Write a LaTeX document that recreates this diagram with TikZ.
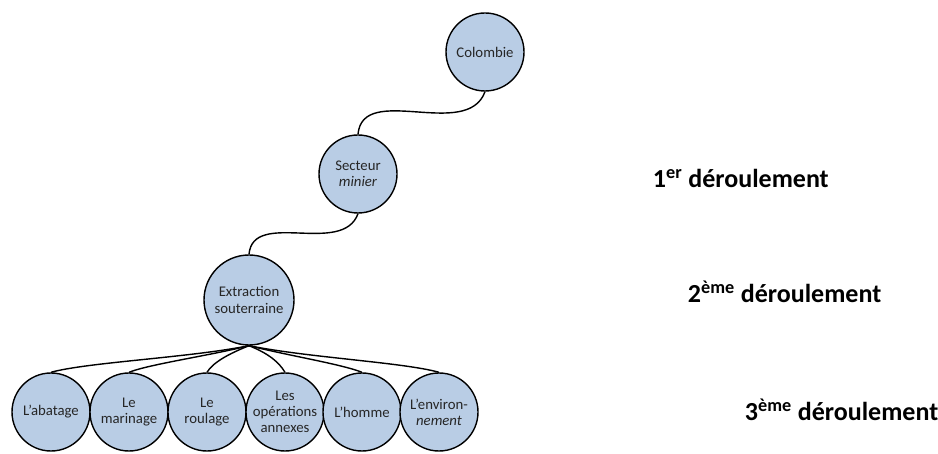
\documentclass[tikz,border=0pt]{standalone}
\usepackage{fontspec}
\setmainfont{Carlito}
\usepackage{tikz}
\usetikzlibrary{positioning}

\definecolor{bulle}{HTML}{B9CDE5}
\definecolor{encre}{HTML}{262626}

\tikzset{
  etape/.style={circle, draw=black, line width=1pt, fill=bulle,
    minimum size=1.95cm, inner sep=0pt, align=center, text=encre,
    font=\fontsize{10.5}{11.5}\selectfont},
  grande/.style={etape, minimum size=2.25cm},
  lien/.style={line width=1pt},
  niveau/.style={anchor=west, font=\fontsize{18.5}{22}\selectfont\bfseries}
}

\begin{document}
\begin{tikzpicture}
        \useasboundingbox (0,0) rectangle (23.45,11.35);

        \node[etape] (col) at (12.125,10.05) {Colombie};
        \node[etape] (sec) at (8.95,7.0) {Secteur\\\textit{minier}};
        \node[grande] (ext) at (6.225,3.85) {Extraction\\souterraine};

        \node[etape] (aba) at (1.275,1.05) {L'abatage};
        \node[etape] (mar) at (3.225,1.05) {Le\\marinage};
        \node[etape] (rou) at (5.175,1.05) {Le\\roulage};
        \node[etape] (ope) at (7.125,1.05) {Les\\opérations\\annexes};
        \node[etape] (hom) at (9.05,1.05) {L'homme};
        \node[etape] (env) at (10.975,1.05) {L'environ-\\\textit{nement}};

        \node[niveau] (n1) at (16.2,6.9) {1\textsuperscript{er} déroulement};
        \node[niveau] (n2) at (17.075,4.05) {2\textsuperscript{ème} déroulement};
        \node[niveau] (n3) at (18.5,1.1) {3\textsuperscript{ème} déroulement};

        \draw[lien] (col.south) to[out=-110, in=85] (sec.north);
        \draw[lien] (sec.south) to[out=-110, in=85] (ext.north);

        \draw[lien] (ext.south) .. controls +(-1.5,-0.3) and +(0.9,0.25) .. (aba.north);
        \draw[lien] (ext.south) .. controls +(-1.0,-0.25) and +(0.5,0.2) .. (mar.north);
        \draw[lien] (ext.south) .. controls +(-0.5,-0.2) and +(0.15,0.25) .. (rou.north);
        \draw[lien] (ext.south) .. controls +(0.5,-0.2) and +(-0.15,0.25) .. (ope.north);
        \draw[lien] (ext.south) .. controls +(1.0,-0.25) and +(-0.5,0.2) .. (hom.north);
        \draw[lien] (ext.south) .. controls +(1.5,-0.3) and +(-0.9,0.25) .. (env.north);

      \end{tikzpicture}
\end{document}
